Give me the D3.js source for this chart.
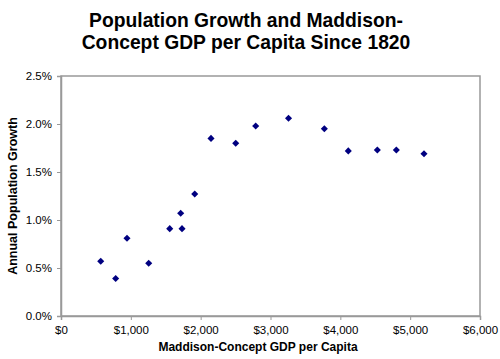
<!DOCTYPE html>
<html>
<head>
<meta charset="utf-8">
<script src="https://cdn.jsdelivr.net/npm/d3@7"></script>
<style>
  html, body { margin: 0; padding: 0; background: #fff; }
  svg { display: block; font-family: "Liberation Sans", Arial, Helvetica, sans-serif; }
</style>
</head>
<body>
<svg id="chart" width="500" height="359"></svg>
<script>
// Data
const gdpPerCapita = [569, 783, 945, 1256, 1557, 1714, 1733, 1915, 2148, 2502, 2788, 3258, 3771, 4114, 4530, 4802, 5198];
const popGrowth    = [0.57, 0.39, 0.81, 0.55, 0.91, 1.07, 0.91, 1.27, 1.85, 1.80, 1.98, 2.06, 1.95, 1.72, 1.73, 1.73, 1.69];
const xTicks = [0, 1000, 2000, 3000, 4000, 5000, 6000];
const yTicks = [0, 0.5, 1.0, 1.5, 2.0, 2.5];
const titleLines = ["Population Growth and Maddison-", "Concept GDP per Capita Since 1820"];
const xTitle = "Maddison-Concept GDP per Capita";
const yTitle = "Annual Population Growth";

const svg = d3.select("#chart");
const m = { left: 61, right: 480, top: 76, bottom: 316 };

const x = d3.scaleLinear().domain([0, 6000]).range([m.left, m.right]);
const y = d3.scaleLinear().domain([0, 2.5]).range([m.bottom, m.top]);

// Title (two separate lines)
svg.append("g").selectAll("text").data(titleLines).join("text")
  .attr("x", 246).attr("y", (d, i) => 27 + i * 21.5)
  .attr("text-anchor", "middle")
  .style("font-size", "19.3px").style("font-weight", "bold")
  .text(d => d);

// Plot frame
svg.append("rect")
  .attr("x", m.left).attr("y", m.top)
  .attr("width", m.right - m.left).attr("height", m.bottom - m.top)
  .attr("fill", "none").attr("stroke", "#999").attr("stroke-width", 1.5);

// Axes
const xAxis = d3.axisBottom(x).tickValues(xTicks).tickSize(4).tickPadding(6)
  .tickFormat(d => "$" + d3.format(",")(d));
const yAxis = d3.axisLeft(y).tickValues(yTicks).tickSize(4).tickPadding(5)
  .tickFormat(d => d.toFixed(1) + "%");

const gx = svg.append("g").attr("transform", `translate(0,${m.bottom})`).call(xAxis);
const gy = svg.append("g").attr("transform", `translate(${m.left},0)`).call(yAxis);
[gx, gy].forEach(g => {
  g.select(".domain").attr("stroke", "#999").attr("stroke-width", 1.5);
  g.selectAll(".tick line").attr("stroke", "#999");
  g.selectAll(".tick text").attr("fill", "#000")
    .style("font-size", "11.5px").style("font-family", "'Liberation Sans', Arial, sans-serif");
});

// Axis titles
svg.append("text")
  .attr("x", 258).attr("y", 351)
  .attr("text-anchor", "middle")
  .style("font-size", "12px").style("font-weight", "bold")
  .text(xTitle);

svg.append("text")
  .attr("transform", `translate(17,${(m.top + m.bottom) / 2}) rotate(-90)`)
  .attr("text-anchor", "middle")
  .style("font-size", "12.5px").style("font-weight", "bold")
  .text(yTitle);

// Points
const pts = gdpPerCapita.map((g, i) => ({ g, p: popGrowth[i] }));
svg.append("g").selectAll("path").data(pts).join("path")
  .attr("transform", d => `translate(${x(d.g)},${y(d.p)})`)
  .attr("d", d3.symbol().type(d3.symbolDiamond2).size(32))
  .attr("fill", "#000080");
</script>
</body>
</html>
